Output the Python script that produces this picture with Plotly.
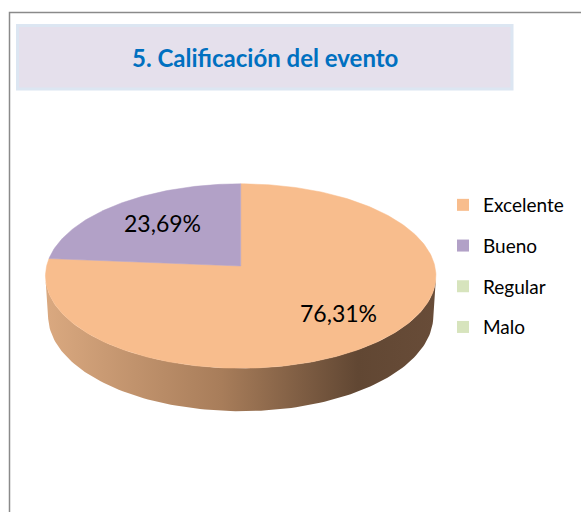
import math
import plotly.graph_objects as go

# ---- data ----
categories = ["Excelente", "Bueno", "Regular", "Malo"]
values = [76.31, 23.69, 0.0, 0.0]
colors = ["#F8BD8D", "#B2A1C7", "#D7E4BD", "#D7E4BD"]
title_text = "5. Calificación del evento"

# ---- 3D pie projection settings (pixels) ----
W, H = 581, 512
CX, CY = 240.7, 266.0
F = 1576.0
D = 8.12
ALPHA = math.radians(28.0)
DEPTH = 0.235
SA, CA = math.sin(ALPHA), math.cos(ALPHA)


def project(X, Y, Z):
    d = D + Z * CA - Y * SA
    u = F * X / d
    v = F * (Z * SA + Y * CA) / d
    return CX + u, CY - v


def arc(a0, a1, y=0.0, r=1.0, n=120):
    xs, ys = [], []
    for i in range(n + 1):
        a = math.radians(a0 + (a1 - a0) * i / n)
        px, py = project(r * math.sin(a), y, r * math.cos(a))
        xs.append(px)
        ys.append(py)
    return xs, ys


fig = go.Figure()

# side wall (front visible part)
lim = math.degrees(math.acos(-1.0 / (D * CA)))
tx, ty = arc(lim, 360 - lim)
bx, by = arc(360 - lim, lim, y=-DEPTH)
fig.add_trace(go.Scatter(
    x=tx + bx + [tx[0]], y=ty + by + [ty[0]], mode="lines", fill="toself",
    line=dict(width=0), hoverinfo="skip", showlegend=False,
    fillgradient=dict(type="horizontal",
                      colorscale=[[0, "#DAA980"], [0.45, "#A87D5A"],
                                  [0.8, "#614733"], [1, "#684C38"]]),
))

# top face slices
total = sum(values)
start = 0.0
label_pos = []
for cat, val, col in zip(categories, values, colors):
    if val <= 0:
        continue
    span = 360.0 * val / total
    ax, ay = arc(start, start + span, n=max(8, int(span)))
    ox, oy = project(0, 0, 0)
    fig.add_trace(go.Scatter(
        x=[ox] + ax + [ox], y=[oy] + ay + [oy], mode="lines", fill="toself",
        fillcolor=col, line=dict(width=0.5, color=col),
        hoverinfo="skip", showlegend=False,
    ))
    mid = math.radians(start + span / 2)
    lx, ly = project(0.67 * math.sin(mid), 0, 0.67 * math.cos(mid))
    label_pos.append((lx + 5, ly, f"{val:.2f}".replace(".", ",") + "%"))
    start += span

for lx, ly, txt in label_pos:
    fig.add_annotation(x=lx, y=ly, text=txt, showarrow=False,
                       font=dict(family="Lato", size=23, color="#000000"))

# legend entries
for i, (cat, col) in enumerate(zip(categories, colors)):
    fig.add_trace(go.Scatter(
        x=[None], y=[None], mode="markers", name=cat, legendgroup=f"g{i}",
        marker=dict(symbol="square", size=11, color=col),
    ))

# frame + title box
fig.add_shape(type="rect", x0=9.5, y0=12.5, x1=620, y1=560,
              line=dict(color="#8A8A8A", width=1.5), fillcolor="rgba(0,0,0,0)",
              layer="below")
fig.add_shape(type="rect", x0=17.5, y0=25.5, x1=512, y1=89,
              line=dict(color="#DCE6F2", width=3), fillcolor="#E5E0EC",
              layer="below")
fig.add_annotation(x=264.5, y=57, text=f"<b>{title_text}</b>", showarrow=False,
                   font=dict(family="Lato", size=24, color="#0070C0"))

fig.update_layout(
    width=W, height=H, autosize=False,
    margin=dict(l=0, r=0, t=0, b=0),
    paper_bgcolor="white", plot_bgcolor="white",
    xaxis=dict(range=[0, W], visible=False, fixedrange=True),
    yaxis=dict(range=[H, 0], visible=False, fixedrange=True),
    showlegend=True,
    legend=dict(x=443 / W, y=1 - 186 / H, xanchor="left", yanchor="top",
                font=dict(family="Lato", size=19, color="#000000"),
                tracegroupgap=13, bgcolor="rgba(0,0,0,0)", itemsizing="constant"),
)

fig.write_html("out.html", config={"displayModeBar": False},
               post_script="document.body.style.margin='0px';document.body.style.overflow='hidden';")
